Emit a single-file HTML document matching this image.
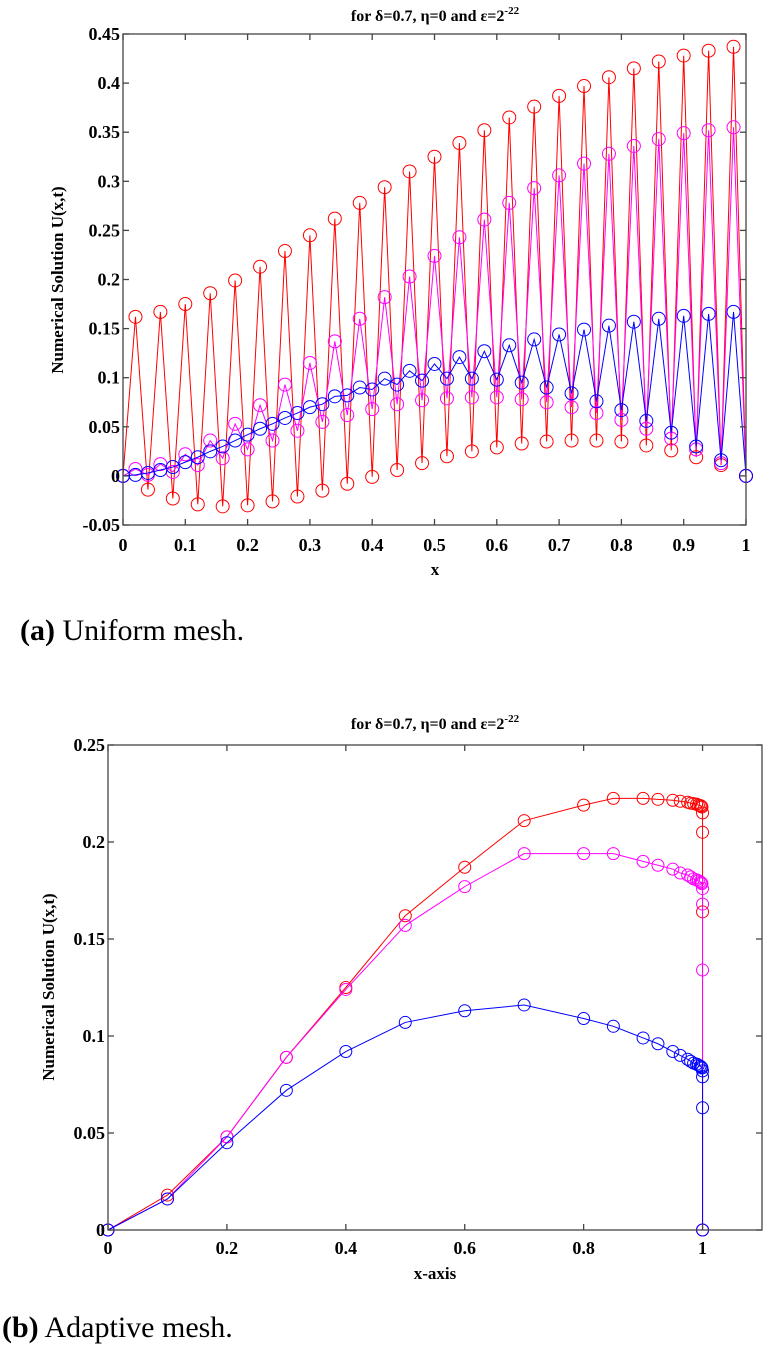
<!DOCTYPE html>
<html><head><meta charset="utf-8"><style>
html,body{margin:0;padding:0;background:#fff;width:763px;height:1351px;overflow:hidden}
svg{display:block}
.t{font-family:"Liberation Serif",serif;font-weight:bold;fill:#000}
.cap{font-family:"Liberation Serif",serif;font-size:30px;fill:#000}
</style></head><body>
<svg id="s" width="763" height="1351" viewBox="0 0 763 1351">
<text class="t" x="435" y="21" font-size="16" text-anchor="middle">for δ=0.7, η=0 and ε=2<tspan dy="-7" font-size="11">-22</tspan></text>
<text class="t" transform="translate(63,280) rotate(-90)" font-size="17" text-anchor="middle">Numerical Solution U(x,t)</text>
<text class="t" x="435" y="575" font-size="17" text-anchor="middle">x</text>
<text class="cap" x="20" y="640"><tspan font-weight="bold">(a)</tspan> Uniform mesh.</text>
<text class="t" x="435" y="729" font-size="16" text-anchor="middle">for δ=0.7, η=0 and ε=2<tspan dy="-7" font-size="11">-22</tspan></text>
<text class="t" transform="translate(54,987) rotate(-90)" font-size="17" text-anchor="middle">Numerical Solution U(x,t)</text>
<text class="t" x="435" y="1279" font-size="17" text-anchor="middle">x-axis</text>
<text class="cap" x="2" y="1337"><tspan font-weight="bold">(b)</tspan> Adaptive mesh.</text>
</svg>
<script>
// ---- chart A data (uniform mesh, x = 0..1 step 0.02)
const aX = [0,0.02,0.04,0.06,0.08,0.1,0.12,0.14,0.16,0.18,0.2,0.22,0.24,0.26,0.28,0.3,0.32,0.34,0.36,0.38,0.4,0.42,0.44,0.46,0.48,0.5,0.52,0.54,0.56,0.58,0.6,0.62,0.64,0.66,0.68,0.7,0.72,0.74,0.76,0.78,0.8,0.82,0.84,0.86,0.88,0.9,0.92,0.94,0.96,0.98,1];
const aRed = [0,0.162,-0.014,0.167,-0.023,0.175,-0.029,0.186,-0.031,0.199,-0.030,0.213,-0.026,0.229,-0.021,0.245,-0.015,0.262,-0.008,0.278,-0.001,0.294,0.006,0.310,0.013,0.325,0.020,0.339,0.025,0.352,0.029,0.365,0.033,0.376,0.035,0.387,0.036,0.397,0.036,0.406,0.035,0.415,0.031,0.422,0.026,0.428,0.019,0.433,0.011,0.437,0];
const aMag = [0,0.007,0.001,0.012,0.004,0.022,0.011,0.036,0.018,0.053,0.027,0.072,0.036,0.093,0.046,0.115,0.055,0.137,0.062,0.160,0.068,0.182,0.073,0.203,0.077,0.224,0.079,0.243,0.080,0.261,0.080,0.278,0.078,0.293,0.075,0.306,0.070,0.318,0.064,0.328,0.057,0.336,0.048,0.343,0.038,0.349,0.027,0.352,0.013,0.355,0];
const aBlue = [0,0.001,0.003,0.006,0.009,0.014,0.019,0.025,0.030,0.036,0.042,0.048,0.053,0.059,0.064,0.070,0.073,0.081,0.082,0.090,0.088,0.099,0.093,0.107,0.097,0.114,0.099,0.121,0.099,0.127,0.098,0.133,0.095,0.139,0.090,0.144,0.084,0.149,0.076,0.153,0.067,0.157,0.056,0.160,0.044,0.163,0.030,0.165,0.016,0.167,0];
const aXTicks = [0,0.1,0.2,0.3,0.4,0.5,0.6,0.7,0.8,0.9,1];
const aXTickLabels = ["0","0.1","0.2","0.3","0.4","0.5","0.6","0.7","0.8","0.9","1"];
const aYTicks = [-0.05,0,0.05,0.1,0.15,0.2,0.25,0.3,0.35,0.4,0.45];
const aYTickLabels = ["-0.05","0","0.05","0.1","0.15","0.2","0.25","0.3","0.35","0.4","0.45"];
// ---- chart B data (adaptive mesh)
const bX = [0,0.1,0.2,0.3,0.4,0.5,0.6,0.7,0.8,0.85,0.9,0.925,0.95,0.9625,0.975,0.98,0.985,0.99,0.993,0.996,0.998,0.999,1,1,1,1];
const bRed = [0,0.018,0.048,0.089,0.125,0.162,0.187,0.211,0.219,0.2225,0.2225,0.222,0.2215,0.221,0.2205,0.220,0.2198,0.2195,0.219,0.2188,0.2185,0.218,0.215,0.205,0.164,0];
const bMag = [0,0.016,0.048,0.089,0.124,0.157,0.177,0.194,0.194,0.194,0.190,0.188,0.186,0.184,0.183,0.182,0.181,0.1805,0.180,0.1795,0.179,0.1785,0.176,0.168,0.134,0];
const bBlue = [0,0.016,0.045,0.072,0.092,0.107,0.113,0.116,0.109,0.105,0.099,0.096,0.092,0.090,0.088,0.087,0.086,0.0855,0.085,0.0845,0.084,0.0835,0.082,0.079,0.063,0];
const bXTicks = [0,0.2,0.4,0.6,0.8,1];
const bXTickLabels = ["0","0.2","0.4","0.6","0.8","1"];
const bYTicks = [0,0.05,0.1,0.15,0.2,0.25];
const bYTickLabels = ["0","0.05","0.1","0.15","0.2","0.25"];

const NS = "http://www.w3.org/2000/svg";
const svg = document.getElementById('s');
function mk(tag, attrs, parent){const e=document.createElementNS(NS,tag);for(const k in attrs)e.setAttribute(k,attrs[k]);(parent||svg).appendChild(e);return e;}

function chart(id, L, R, T, B, x0, x1, y0, y1, xt, xtl, yt, ytl, series, r, labelY){
  const sx = v => L + (v - x0) / (x1 - x0) * (R - L);
  const sy = v => B - (v - y0) / (y1 - y0) * (B - T);
  const g = mk('g', {});
  
  
  series.forEach(s => {
    const pts = s.xs.map((x, i) => sx(x).toFixed(2) + ',' + sy(s.ys[i]).toFixed(2)).join(' ');
    const pl = mk('polyline', {points: pts, fill: 'none', stroke: s.c, 'stroke-width': 1}, g);
    
    
    s.xs.forEach((x, i) => {
      const c = mk('circle', {cx: sx(x).toFixed(2), cy: sy(s.ys[i]).toFixed(2), r: r, fill: 'none', stroke: s.c, 'stroke-width': 1}, g);
      
      
    });
  });
  const ax = mk('g', {stroke: '#444', 'stroke-width': 1.3, fill: 'none'});
  
  
  mk('rect', {x: L, y: T, width: R - L, height: B - T}, ax);
  xt.forEach((v, i) => {
    const x = sx(v);
    mk('line', {x1: x, y1: B, x2: x, y2: B - 6}, ax);
    mk('line', {x1: x, y1: T, x2: x, y2: T + 6}, ax);
    const t = mk('text', {x: x, y: labelY, 'text-anchor': 'middle', 'font-size': 18, class: 't'});
    
    
    t.textContent = xtl[i];
  });
  yt.forEach((v, i) => {
    const y = sy(v);
    mk('line', {x1: L, y1: y, x2: L + 6, y2: y}, ax);
    mk('line', {x1: R, y1: y, x2: R - 6, y2: y}, ax);
    const t = mk('text', {x: L - 3, y: y + 6, 'text-anchor': 'end', 'font-size': 18, class: 't'});
    
    
    t.textContent = ytl[i];
  });
}

chart('chart-a', 123, 746, 34, 525, 0, 1, -0.05, 0.45, aXTicks, aXTickLabels, aYTicks, aYTickLabels,
  [{n:'red', c:'#ff0000', xs:aX, ys:aRed},{n:'magenta', c:'#ff00ff', xs:aX, ys:aMag},{n:'blue', c:'#0000ff', xs:aX, ys:aBlue}], 6.5, 551);
chart('chart-b', 108, 762, 745, 1230, 0, 1.1, 0, 0.25, bXTicks, bXTickLabels, bYTicks, bYTickLabels,
  [{n:'red', c:'#ff0000', xs:bX, ys:bRed},{n:'magenta', c:'#ff00ff', xs:bX, ys:bMag},{n:'blue', c:'#0000ff', xs:bX, ys:bBlue}], 6, 1254);
</script>
</body></html>
